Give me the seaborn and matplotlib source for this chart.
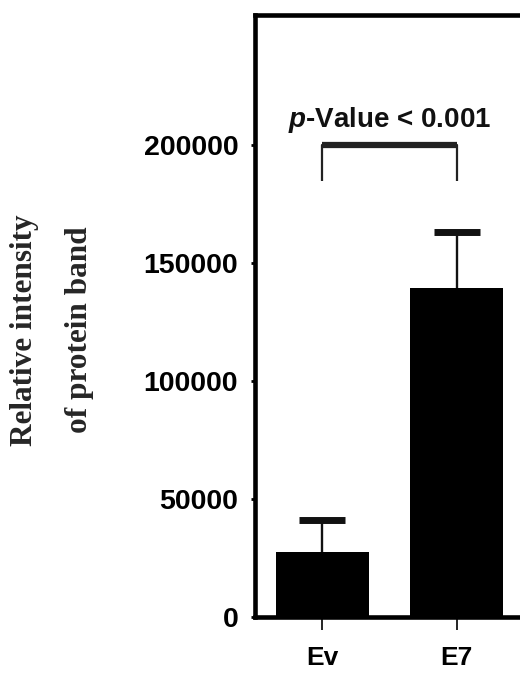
import matplotlib
matplotlib.use("Agg")
import matplotlib.pyplot as plt
import pandas as pd
import seaborn as sns

# values
categories = ["Ev", "E7"]
intensity = [27500, 139400]
upper_err = [13600, 23700]
y_ticks = [0, 50000, 100000, 150000, 200000]
p_label = r"$\it{p}$-Value < 0.001"
ylabel_lines = ["Relative intensity", "of protein band"]

sns.set_theme(style="white")
plt.rcParams["font.family"] = ["Liberation Sans", "DejaVu Sans"]
plt.rcParams["font.weight"] = "bold"
plt.rcParams["mathtext.fontset"] = "custom"
plt.rcParams["mathtext.it"] = "Liberation Sans:italic:bold"
plt.rcParams["mathtext.rm"] = "Liberation Sans:bold"

df = pd.DataFrame({"group": categories, "intensity": intensity, "err": upper_err})

fig = plt.figure(figsize=(5.2, 6.75), dpi=100)
ax = fig.add_axes([0.490, 0.086, 0.518, 0.892])

sns.barplot(data=df, x="group", y="intensity", color="black", width=0.69,
            errorbar=None, linewidth=0, saturation=1, ax=ax)

# one-sided (upper) error bars
xpos = list(range(len(categories)))
eb = ax.errorbar(xpos, df["intensity"], yerr=[[0] * len(df), df["err"]], fmt="none",
                 ecolor="#111111", elinewidth=1.7, capsize=16.5, capthick=5, zorder=3)
eb[1][0].set_visible(False)

# significance bracket
top = 200000
drop = 184500
ax.plot([xpos[0], xpos[0], xpos[1], xpos[1]], [drop, top, top, drop],
        color="#222222", lw=1.6, solid_capstyle="butt", zorder=3)
ax.plot([xpos[0], xpos[1]], [top, top], color="#222222", lw=4.5,
        solid_capstyle="butt", zorder=3)
ax.text((xpos[0] + xpos[1]) / 2, 207500, p_label, ha="center", va="baseline",
        fontsize=20, fontweight="bold", color="#111111")

ax.set_xlim(-0.5, 1.5)
ax.set_ylim(0, 255000)
ax.set_yticks(y_ticks)
ax.set_yticklabels([str(t) for t in y_ticks], fontsize=20.5, fontweight="bold")
ax.set_xticks(xpos)
ax.set_xticklabels(categories, fontsize=19, fontweight="bold")
ax.set_xlabel("")
ax.set_ylabel("")

for side in ["left", "bottom", "top", "right"]:
    ax.spines[side].set_color("black")
    ax.spines[side].set_linewidth(3.3)

ax.tick_params(axis="y", left=True, length=3, width=2, pad=9, colors="black")
ax.tick_params(axis="x", bottom=True, length=9, width=1.2, pad=12, colors="black")

fig.text(25 / 520, 0.511, ylabel_lines[0], rotation=90, ha="center", va="center",
         family="Liberation Serif", fontsize=22.5, fontweight="bold")
fig.text(80 / 520, 0.511, ylabel_lines[1], rotation=90, ha="center", va="center",
         family="Liberation Serif", fontsize=22.5, fontweight="bold")

fig.savefig("out.png", dpi=100)
